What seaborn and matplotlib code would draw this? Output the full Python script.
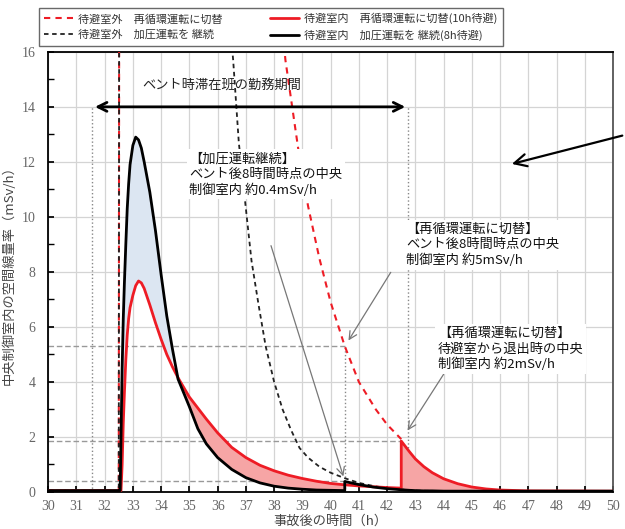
import numpy as np
import pandas as pd
import matplotlib
matplotlib.use("Agg")
import matplotlib.pyplot as plt
from matplotlib.ticker import MultipleLocator
import seaborn as sns

# %% data
# common time grid for the two "inside shelter" curves (h)
t_in = [30, 32.5, 32.55, 32.58, 32.62, 32.66, 32.7, 32.75, 32.8, 32.85, 32.9,
        33.0, 33.1, 33.2, 33.3, 33.4, 33.6, 33.8, 34.0, 34.2, 34.4, 34.6,
        34.8, 35.0, 35.3, 35.6, 36.0, 36.5, 37.0, 37.5, 38.0, 38.5, 39.0,
        39.5, 40.0, 40.5, 40.5, 41.0, 41.5, 42.0, 42.5, 42.5, 42.8, 43.0,
        43.3, 43.6, 44.0, 44.5, 45.0, 45.5, 46.0, 47.0, 50.0]
# inside, keep pressurising (8h shelter)
press_in = [0.05, 0.05, 0.05, 2.0, 4.5, 6.3, 7.6, 9.0, 10.3, 11.2, 11.9,
            12.6, 12.9, 12.8, 12.5, 12.0, 10.9, 9.5, 7.9, 6.4, 5.2, 4.1,
            3.6, 3.1, 2.3, 1.75, 1.25, 0.82, 0.52, 0.33, 0.21, 0.14, 0.1,
            0.07, 0.06, 0.05, 0.38, 0.27, 0.18, 0.12, 0.08, 0.08, 0.06, 0.05,
            0.04, 0.04, 0.03, 0.03, 0.03, 0.03, 0.03, 0.03, 0.03]
# inside, switch to recirculation (10h shelter)
recirc_in = [0.05, 0.05, 0.05, 0.05, 1.0, 2.5, 3.6, 4.8, 5.7, 6.3, 6.7,
             7.15, 7.5, 7.67, 7.6, 7.4, 6.8, 6.15, 5.55, 5.0, 4.55, 4.15,
             3.8, 3.45, 3.05, 2.65, 2.15, 1.62, 1.25, 0.97, 0.77, 0.61, 0.49,
             0.39, 0.31, 0.26, 0.26, 0.22, 0.19, 0.16, 0.14, 1.85, 1.45, 1.2,
             0.92, 0.7, 0.48, 0.3, 0.18, 0.11, 0.07, 0.04, 0.03]

# outside shelter curves (they go off the top of the chart after the vent)
t_recirc_out = [30, 32.5, 32.55, 38.0, 38.4, 38.85, 39.2, 39.6, 40.0, 40.5,
                41.0, 41.6, 42.0, 42.5]
recirc_out = [0.05, 0.05, 60, 20, 15.7, 12.5, 10.4, 8.5, 6.9, 5.3,
              4.0, 3.0, 2.45, 1.92]
t_press_out = [30, 32.5, 32.55, 36.0, 36.55, 36.75, 37.0, 37.2, 37.45, 37.7,
               38.0, 38.3, 38.6, 38.9, 39.2, 39.6, 40.0, 40.5, 41.0, 41.5,
               42.0, 42.5, 43.0, 44.0, 50.0]
press_out = [0.05, 0.05, 60, 22, 15.7, 12.7, 10.3, 8.4, 6.8, 5.3,
             4.0, 3.0, 2.25, 1.6, 1.25, 0.92, 0.7, 0.5, 0.33, 0.22,
             0.14, 0.09, 0.05, 0.03, 0.03]

labels = ["待避室外　再循環運転に切替", "待避室外　加圧運転を 継続",
          "待避室内　再循環運転に切替(10h待避)", "待避室内　加圧運転を 継続(8h待避)"]

# work period of the team, reference levels
work_start, work_end, work_y = 31.56, 42.74, 14
ref_levels = [5.3, 1.85, 0.4]
ref_ends = [40.5, 42.5, 40.5]

notes = ["【加圧運転継続】\nベント後8時間時点の中央\n制御室内 約0.4mSv/h",
         "【再循環運転に切替】\nベント後8時間時点の中央\n制御室内 約5mSv/h",
         "【再循環運転に切替】\n待避室から退出時の中央\n制御室内 約2mSv/h"]
note_pos = [(35.0, 12.35), (42.67, 9.8), (43.8, 6.0)]
note_tail = [(37.86, 9.05), (42.18, 8.07), (44.05, 4.36)]
note_head = [(40.48, 0.47), (40.58, 5.42), (42.67, 2.15)]

# %% plot
sns.set_theme(style="whitegrid")
plt.rcParams['font.family'] = ['Noto Sans CJK JP', 'DejaVu Sans']

df = pd.DataFrame({'t': t_in, 'press': press_in, 'recirc': recirc_in})

fig, ax = plt.subplots(figsize=(6.25, 5.29), dpi=100)
fig.subplots_adjust(left=0.077, right=0.981, bottom=0.070, top=0.902)

p = np.array(press_in)
r = np.array(recirc_in)
ax.fill_between(t_in, p, r, where=p >= r, color='#dce6f2', lw=0, zorder=2)
ax.fill_between(t_in, p, r, where=r >= p, color='#f6a5a5', lw=0, zorder=2)

# reference lines
for lev, xe in zip(ref_levels, ref_ends):
    ax.plot([30, xe], [lev, lev], color='#999999', lw=1, ls=(0, (4, 2)),
            zorder=1.5)
ax.plot([work_start, work_start], [0, work_y], color='#888888', lw=1,
        ls=':', zorder=1.5)
ax.plot([work_end, work_end], [0, work_y], color='#888888', lw=1, ls=':',
        zorder=1.5)
ax.plot([40.5, 40.5], [0, 5.3], color='#888888', lw=1, ls=':', zorder=1.5)

sns.lineplot(x=t_recirc_out, y=recirc_out, sort=False, estimator=None,
             color='#ee1c25', lw=1.5, ax=ax, zorder=3,
             label=labels[0]).lines[-1].set_linestyle((0, (3, 2.5)))
sns.lineplot(x=t_press_out, y=press_out, sort=False, estimator=None,
             color='#222222', lw=1.3, ax=ax, zorder=3,
             label=labels[1]).lines[-1].set_linestyle((0, (2.5, 2)))
sns.lineplot(data=df, x='t', y='recirc', sort=False, estimator=None,
             color='#ee1c25', lw=2.0, ax=ax, zorder=4, label=labels[2])
sns.lineplot(data=df, x='t', y='press', sort=False, estimator=None,
             color='black', lw=2.0, ax=ax, zorder=5, label=labels[3])

handles, labs = ax.get_legend_handles_labels()
ax.get_legend().remove()
leg = fig.legend(handles, labs, loc='upper left', ncol=2,
                 bbox_to_anchor=(39 / 625, 1 - 8 / 529), fontsize=8,
                 frameon=True, fancybox=False, edgecolor='#444444',
                 handlelength=2.6, borderpad=0.45, labelspacing=0.45,
                 handletextpad=0.5, columnspacing=4.2, borderaxespad=0)
leg.get_frame().set_linewidth(1.0)
for txt in leg.get_texts():
    txt.set_color('#333333')

# work period arrow
ax.annotate('', xy=(work_start, work_y), xytext=(work_end, work_y),
            arrowprops=dict(arrowstyle='<->', lw=2, color='black',
                            mutation_scale=16), zorder=6)
ax.text(36.14, 14.74, "ベント時滞在班の勤務期間", ha='center', va='center',
        fontsize=9.5, color='#222222', zorder=6)

for txt, pos, tail, head in zip(notes, note_pos, note_tail, note_head):
    ax.annotate('', xy=head, xytext=tail,
                arrowprops=dict(arrowstyle='->', lw=0.9, color='#777777',
                                mutation_scale=14), zorder=6)
    ax.text(pos[0], pos[1], txt, ha='left', va='top', fontsize=9.5,
            color='#111111', linespacing=1.25, zorder=7,
            bbox=dict(facecolor='white', edgecolor='none', pad=2))

# arrow coming from outside the chart
ax.annotate('', xy=(46.32, 11.9), xytext=(50.42, 12.98),
            arrowprops=dict(arrowstyle='->', lw=1.6, color='black',
                            mutation_scale=22),
            annotation_clip=False, zorder=6)

ax.set_xlim(30, 50)
ax.set_ylim(0, 16)
ax.xaxis.set_major_locator(MultipleLocator(1))
ax.yaxis.set_major_locator(MultipleLocator(2))
ax.yaxis.set_minor_locator(MultipleLocator(1))
ax.grid(True, which='major', color='#d4d4d4', lw=0.9)
ax.grid(False, which='minor')
ax.tick_params(which='both', direction='in', length=4, color='black',
               left=True, bottom=True, labelsize=10, labelcolor='#666666')
ax.tick_params(axis='y', pad=9)
ax.tick_params(axis='x', pad=6)
for lbl in ax.get_xticklabels() + ax.get_yticklabels():
    lbl.set_family('Liberation Serif')
for s in ax.spines.values():
    s.set_color('black')
    s.set_linewidth(1.3)
ax.spines['right'].set_color('#555555')

ax.set_xlabel("事故後の時間（h）", fontsize=9.5, color='#444444', labelpad=1)
ax.set_ylabel("中央制御室内の空間線量率（mSv/h）", fontsize=9.5,
              color='#444444', labelpad=4)

fig.savefig("out.png", dpi=100)
